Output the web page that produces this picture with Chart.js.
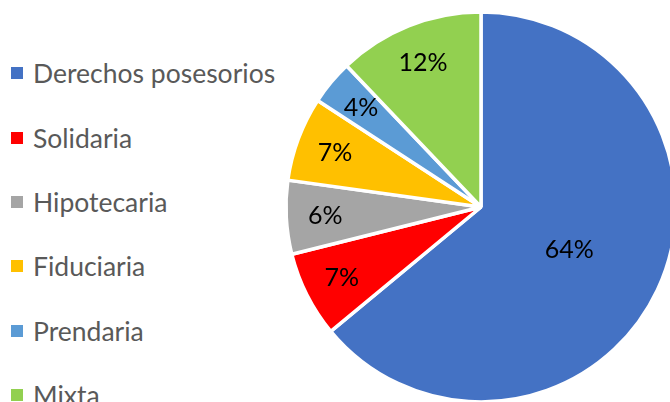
<!doctype html>
<html>

<head>
	<title>Garantías</title>
	<script src="https://cdn.jsdelivr.net/npm/chart.js@4"></script>
	<style>
	html, body {
		margin: 0;
		padding: 0;
		width: 670px;
		height: 402px;
		overflow: hidden;
		background: #fff;
		font-family: Lato, 'Liberation Sans', sans-serif;
	}
	#container {
		position: absolute;
		left: 281px;
		top: 7px;
		width: 400px;
		height: 400px;
	}
	#legend {
		position: absolute;
		left: 11px;
		top: 41px;
		margin: 0;
		padding: 0;
		list-style: none;
	}
	#legend li {
		height: 64.4px;
		display: flex;
		align-items: center;
		font-size: 26.5px;
		color: #595959;
		white-space: nowrap;
	}
	#legend li span {
		display: inline-block;
		width: 12px;
		height: 12px;
		margin-right: 10px;
	}
	</style>
</head>

<body>
	<ul id="legend"></ul>
	<div id="container">
		<canvas id="canvas"></canvas>
	</div>
	<script>
		var categories = ['Derechos posesorios', 'Solidaria', 'Hipotecaria', 'Fiduciaria', 'Prendaria', 'Mixta'];
		var shares = [64.0, 7.1, 6.1, 7.0, 3.7, 12.1];
		var sliceColors = ['#4472C4', '#FF0000', '#A5A5A5', '#FFC000', '#5B9BD5', '#92D050'];

		// percentage labels drawn inside each slice
		var pctLabels = {
			id: 'pctLabels',
			afterDatasetsDraw: function(chart) {
				var ctx = chart.ctx;
				var data = chart.data.datasets[0].data;
				var total = data.reduce(function(a, b) { return a + b; }, 0);
				var meta = chart.getDatasetMeta(0);
				ctx.save();
				ctx.font = '25px Lato, "Liberation Sans", sans-serif';
				ctx.fillStyle = '#000';
				ctx.textAlign = 'center';
				ctx.textBaseline = 'middle';
				meta.data.forEach(function(arc, i) {
					var p = arc.getProps(['x', 'y', 'startAngle', 'endAngle', 'outerRadius'], true);
					var mid = (p.startAngle + p.endAngle) / 2;
					var share = data[i] / total;
					var f = share > 0.5 ? 0.5 : 0.8;
					var x = p.x + Math.cos(mid) * p.outerRadius * f;
					var y = p.y + Math.sin(mid) * p.outerRadius * f;
					ctx.fillText(Math.round(share * 100) + '%', x, y + 1);
				});
				ctx.restore();
			}
		};

		window.onload = function() {
			var legend = document.getElementById('legend');
			categories.forEach(function(name, i) {
				var li = document.createElement('li');
				var box = document.createElement('span');
				box.style.background = sliceColors[i];
				li.appendChild(box);
				li.appendChild(document.createTextNode(name));
				legend.appendChild(li);
			});

			var ctx = document.getElementById('canvas').getContext('2d');
			window.myPie = new Chart(ctx, {
				type: 'pie',
				data: {
					labels: categories,
					datasets: [{
						data: shares,
						backgroundColor: sliceColors,
						borderColor: '#fff',
						borderWidth: 3.5,
						radius: 195
					}]
				},
				options: {
					responsive: true,
					maintainAspectRatio: false,
					animation: false,
					layout: { padding: 0 },
					plugins: {
						legend: { display: false },
						tooltip: { enabled: false }
					}
				},
				plugins: [pctLabels]
			});
		};
	</script>
</body>
</html>
